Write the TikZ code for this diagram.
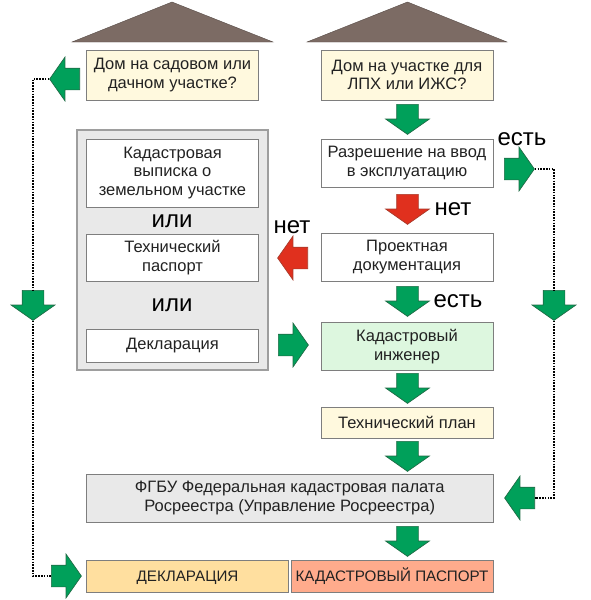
\documentclass[tikz,border=0pt]{standalone}
\usepackage{fontspec}
\setmainfont{Liberation Sans}
\usetikzlibrary{shapes.arrows,calc}
\definecolor{agreen}{HTML}{00A05A}
\definecolor{agreenl}{HTML}{1F6B45}
\definecolor{ared}{HTML}{E0301E}
\definecolor{aredl}{HTML}{A83A2A}
\definecolor{bordergr}{HTML}{7E7E7E}
\definecolor{roofc}{HTML}{7C6B64}
\definecolor{cyellow}{HTML}{FFF9DE}
\definecolor{cgreen}{HTML}{DDF7DF}
\definecolor{cgray}{HTML}{E9E9E9}
\definecolor{corange}{HTML}{FFDF9F}
\definecolor{csalmon}{HTML}{FFAB8C}
\definecolor{txt}{HTML}{222222}
\tikzset{
  box/.style={draw=bordergr,line width=1pt,fill=white,inner sep=0pt,align=center,text=txt,
    font=\fontsize{16.5}{18.5}\selectfont,anchor=center},
  capsbox/.style={font=\fontsize{15.2}{18}\selectfont,text height=11pt,text depth=0pt},
  bigword/.style={inner sep=0pt,text=black,font=\fontsize{24}{26}\selectfont},
  arw/.style={single arrow,minimum height=30pt,inner xsep=0pt,inner ysep=10.5pt,
    single arrow head extend=11pt,single arrow tip angle=110,line width=0.7pt,anchor=tail},
  garw/.style={arw,draw=agreenl,fill=agreen},
  rarw/.style={arw,draw=aredl,fill=ared},
  dn/.style={rotate=-90},
  lf/.style={rotate=180},
  rt/.style={},
  dotline/.style={line width=1.6pt,dash pattern=on 1.6pt off 1.2pt,color=black},
  roof/.style={fill=roofc,draw=roofc!70!black,line width=0.4pt}
}
\newcommand{\bx}[6]{\node[box,#1,minimum width=#4pt-#3pt,minimum height=#6pt-#5pt] (#2) at ({(#3+#4)/2},{(#5+#6)/2})}
\begin{document}
\begin{tikzpicture}[x=1pt,y=-1pt]
\useasboundingbox (0,0) rectangle (591,600);
\draw[roof] (72,42) -- (172,2) -- (273,42) -- cycle;
\draw[roof] (307,42) -- (407.5,2) -- (507,42) -- cycle;
\bx{fill=cgray,draw=bordergr!75,line width=1.2pt}{panel}{77}{268}{130}{370}{};
\bx{fill=cyellow}{dacha}{86.5}{258.5}{50}{100}{Дом на садовом или\\дачном участке?};
\bx{fill=cyellow}{lph}{321}{493}{50}{100}{Дом на участке для\\ЛПХ или ИЖС?};
\bx{}{vypiska}{86.5}{258.5}{139}{207}{Кадастровая\\выписка о\\земельном участке};
\bx{}{techpas}{86.5}{258.5}{234.5}{281}{Технический\\паспорт};
\bx{}{decl}{86.5}{258.5}{329.5}{362}{Декларация};
\bx{}{razr}{321}{493}{139}{187}{Разрешение на ввод\\в эксплуатацию};
\bx{}{proekt}{321}{493}{233}{281}{Проектная\\документация};
\bx{fill=cgreen}{inzh}{321}{493}{322.5}{370.5}{Кадастровый\\инженер};
\bx{fill=cyellow}{plan}{321}{493}{407}{438}{Технический план};
\bx{fill=cgray}{fgbu}{86.5}{493}{474}{522}{ФГБУ Федеральная кадастровая палата\\Росреестра (Управление Росреестра)};
\bx{fill=corange,capsbox}{rdecl}{86.5}{288.5}{560}{592}{ДЕКЛАРАЦИЯ};
\bx{fill=csalmon,capsbox}{rpas}{291}{493}{560}{592}{КАДАСТРОВЫЙ ПАСПОРТ};
\node[bigword] (ili1) at (172,221) {или};
\node[bigword] (ili2) at (172,305) {или};
\node[bigword] (net1) at (453,209) {нет};
\node[bigword] (net2) at (292,227) {нет};
\node[bigword] (est1) at (522,139) {есть};
\node[bigword] (est2) at (458,301) {есть};
\node[garw,dn] (a1) at (407.5,104) {};
\node[rarw,dn] (a2) at (407.5,194) {};
\node[garw,dn] (a3) at (407.5,286) {};
\node[garw,dn] (a4) at (407.5,373) {};
\node[garw,dn] (a5) at (407.5,441) {};
\node[garw,dn] (a6) at (407.5,526) {};
\node[garw,lf] (gdacha) at (80,79) {};
\node[garw,dn] (gleft) at (33,290) {};
\node[garw,rt] (gbot) at (51,576) {};
\node[garw,rt] (gest) at (504,169) {};
\node[garw,dn] (gright) at (554,290) {};
\node[garw,lf] (gfgbu) at (535,498) {};
\node[rarw,lf] (rnet) at (308,258) {};
\node[garw,rt] (gpanel) at (278,345) {};
\draw[dotline] (gdacha.tip) -| (gleft.tail);
\draw[dotline] (gleft.tip) |- (gbot.tail);
\draw[dotline] (gest.tip) -| (gright.tail);
\draw[dotline] (gright.tip) |- (gfgbu.tail);
\end{tikzpicture}
\end{document}
